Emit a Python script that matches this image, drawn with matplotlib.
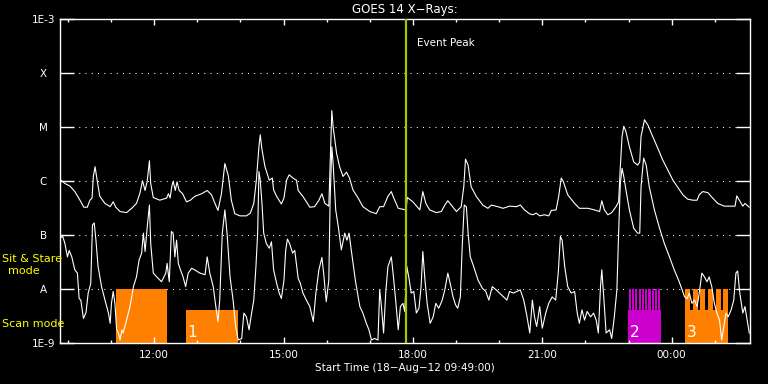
import matplotlib
matplotlib.use('Agg')
import matplotlib.pyplot as plt

plt.rcParams['font.family'] = ['DejaVu Sans']

# ---------------- data ----------------
# time in decimal hours since 00:00 18-Aug-2012 (values > 24 are 19-Aug)
x_start = 9.8167          # 09:49
x_end = 25.8167
class_levels = [-9, -8, -7, -6, -5, -4, -3]          # log10 flux (W/m^2)
class_labels = ['1E-9', 'A', 'B', 'C', 'M', 'X', '1E-3']
hour_ticks = [12, 15, 18, 21, 24]
hour_labels = ['12:00', '15:00', '18:00', '21:00', '00:00']
minor_hours = [10, 11, 13, 14, 16, 17, 19, 20, 22, 23, 25]
event_peak_time = 17.848

# GOES long channel (1-8 A), log10 flux
t_long = [9.82, 9.84, 9.93, 10.05, 10.16, 10.28, 10.37, 10.45, 10.51, 10.56, 10.59, 10.63, 10.67, 10.74,
          10.86, 10.98, 11.05, 11.11, 11.21, 11.36, 11.48, 11.59, 11.67, 11.73, 11.79, 11.84, 11.89, 11.92,
          11.98, 12.13, 12.29, 12.33, 12.37, 12.41, 12.44, 12.49, 12.53, 12.58, 12.66, 12.75, 12.84, 12.94,
          13.10, 13.23, 13.33, 13.41, 13.48, 13.56, 13.64, 13.72, 13.79, 13.87, 13.99, 14.14, 14.23, 14.31,
          14.37, 14.43, 14.46, 14.50, 14.57, 14.67, 14.74, 14.77, 14.84, 14.95, 15.01, 15.07, 15.13, 15.22,
          15.30, 15.34, 15.45, 15.61, 15.72, 15.82, 15.89, 15.96, 16.05, 16.09, 16.12, 16.15, 16.23, 16.30,
          16.38, 16.46, 16.53, 16.61, 16.73, 16.84, 17.00, 17.15, 17.23, 17.32, 17.42, 17.50, 17.54, 17.66,
          17.84, 17.87, 18.00, 18.16, 18.23, 18.30, 18.39, 18.54, 18.66, 18.74, 18.81, 18.89, 19.01, 19.12,
          19.18, 19.22, 19.28, 19.35, 19.47, 19.62, 19.74, 19.82, 19.97, 20.09, 20.24, 20.40, 20.49, 20.59,
          20.70, 20.78, 20.86, 20.94, 21.05, 21.15, 21.21, 21.32, 21.38, 21.44, 21.49, 21.59, 21.75, 21.86,
          22.06, 22.21, 22.33, 22.38, 22.44, 22.52, 22.61, 22.71, 22.77, 22.81, 22.85, 22.89, 22.94, 23.02,
          23.12, 23.21, 23.26, 23.29, 23.37, 23.45, 23.56, 23.68, 23.79, 23.91, 24.03, 24.14, 24.26, 24.37,
          24.49, 24.59, 24.64, 24.72, 24.84, 24.95, 25.07, 25.22, 25.38, 25.47, 25.51, 25.57, 25.65, 25.70,
          25.80]
v_long = [-6.02, -5.98, -6.04, -6.09, -6.19, -6.35, -6.48, -6.48, -6.35, -6.31, -5.91, -5.73, -5.94, -6.28,
          -6.41, -6.47, -6.38, -6.48, -6.56, -6.58, -6.50, -6.41, -6.22, -5.99, -6.17, -5.99, -5.62, -6.04,
          -6.30, -6.35, -6.31, -6.23, -6.31, -6.09, -6.00, -6.17, -6.01, -6.17, -6.23, -6.38, -6.35, -6.28,
          -6.23, -6.17, -6.25, -6.41, -6.54, -6.23, -5.67, -5.90, -6.35, -6.60, -6.64, -6.64, -6.59, -6.41,
          -5.98, -5.36, -5.14, -5.41, -5.73, -5.98, -5.94, -6.16, -6.28, -6.42, -6.31, -5.98, -5.88, -5.94,
          -5.98, -6.17, -6.28, -6.48, -6.47, -6.35, -6.23, -6.41, -6.46, -5.42, -4.69, -4.99, -5.48, -5.73,
          -5.91, -5.83, -5.94, -6.16, -6.31, -6.47, -6.56, -6.60, -6.47, -6.47, -6.28, -6.19, -6.28, -6.50,
          -6.53, -6.30, -6.38, -6.53, -6.19, -6.41, -6.53, -6.58, -6.56, -6.44, -6.36, -6.44, -6.56, -6.47,
          -6.10, -5.59, -5.70, -6.10, -6.28, -6.44, -6.50, -6.44, -6.47, -6.50, -6.46, -6.47, -6.44, -6.53,
          -6.60, -6.62, -6.59, -6.64, -6.62, -6.64, -6.54, -6.53, -6.28, -5.94, -6.01, -6.25, -6.41, -6.50,
          -6.50, -6.53, -6.56, -6.36, -6.53, -6.62, -6.58, -6.47, -6.38, -5.73, -5.17, -4.98, -5.08, -5.36,
          -5.64, -5.70, -5.64, -5.17, -4.86, -4.96, -5.17, -5.39, -5.60, -5.79, -5.98, -6.11, -6.25, -6.33,
          -6.35, -6.35, -6.25, -6.19, -6.21, -6.31, -6.41, -6.46, -6.46, -6.46, -6.27, -6.35, -6.46, -6.41,
          -6.48]

# GOES short channel (0.5-4 A), log10 flux
t_short = [9.82, 9.88, 9.93, 9.99, 10.03, 10.09, 10.16, 10.22, 10.26, 10.30, 10.36, 10.42, 10.47, 10.53,
           10.57, 10.61, 10.65, 10.70, 10.78, 10.86, 10.94, 10.98, 11.01, 11.05, 11.09, 11.13, 11.17, 11.21,
           11.25, 11.28, 11.36, 11.44, 11.52, 11.59, 11.65, 11.71, 11.75, 11.79, 11.84, 11.89, 11.92, 11.98,
           12.06, 12.17, 12.27, 12.30, 12.35, 12.40, 12.44, 12.48, 12.52, 12.56, 12.61, 12.67, 12.73, 12.79,
           12.87, 12.94, 13.06, 13.18, 13.23, 13.29, 13.37, 13.43, 13.48, 13.52, 13.58, 13.64, 13.69, 13.76,
           13.83, 13.89, 13.95, 14.03, 14.08, 14.14, 14.20, 14.26, 14.31, 14.36, 14.40, 14.43, 14.46, 14.50,
           14.54, 14.60, 14.67, 14.72, 14.77, 14.84, 14.90, 14.95, 15.01, 15.05, 15.09, 15.14, 15.21, 15.26,
           15.34, 15.39, 15.45, 15.53, 15.61, 15.69, 15.75, 15.82, 15.89, 15.93, 15.99, 16.05, 16.08, 16.12,
           16.15, 16.21, 16.27, 16.34, 16.42, 16.47, 16.52, 16.57, 16.67, 16.77, 16.84, 16.92, 16.98, 17.04,
           17.11, 17.19, 17.23, 17.27, 17.32, 17.37, 17.42, 17.50, 17.54, 17.60, 17.66, 17.71, 17.77, 17.81,
           17.86, 17.91, 17.96, 18.02, 18.08, 18.14, 18.19, 18.23, 18.28, 18.33, 18.40, 18.47, 18.53, 18.60,
           18.68, 18.74, 18.81, 18.87, 18.93, 18.99, 19.04, 19.10, 19.14, 19.19, 19.24, 19.28, 19.33, 19.41,
           19.51, 19.61, 19.69, 19.76, 19.84, 19.93, 20.01, 20.10, 20.18, 20.24, 20.33, 20.41, 20.49, 20.57,
           20.64, 20.71, 20.77, 20.82, 20.87, 20.94, 21.00, 21.08, 21.15, 21.23, 21.31, 21.37, 21.42, 21.46,
           21.52, 21.59, 21.67, 21.75, 21.81, 21.86, 21.92, 21.98, 22.04, 22.12, 22.19, 22.25, 22.30, 22.35,
           22.38, 22.43, 22.48, 22.56, 22.61, 22.67, 22.73, 22.77, 22.81, 22.85, 22.89, 22.94, 23.02, 23.12,
           23.21, 23.26, 23.29, 23.35, 23.41, 23.48, 23.60, 23.72, 23.83, 23.95, 24.06, 24.16, 24.23, 24.30,
           24.36, 24.41, 24.47, 24.53, 24.59, 24.64, 24.70, 24.76, 24.82, 24.87, 24.93, 24.99, 25.05, 25.11,
           25.16, 25.21, 25.26, 25.31, 25.38, 25.44, 25.49, 25.53, 25.58, 25.65, 25.70, 25.75, 25.80]
v_short = [-7.05, -7.02, -7.15, -7.40, -7.28, -7.40, -7.64, -7.70, -8.17, -8.20, -8.54, -8.43, -8.07, -7.89,
           -6.81, -6.77, -7.09, -7.58, -7.95, -8.20, -8.44, -8.63, -8.26, -8.04, -8.26, -8.75, -8.81, -8.94,
           -8.75, -8.81, -8.57, -8.32, -7.95, -7.77, -7.46, -7.33, -6.96, -7.30, -6.84, -6.44, -7.15, -7.70,
           -7.77, -7.86, -7.70, -7.52, -7.86, -6.93, -6.96, -7.40, -7.09, -7.52, -7.64, -7.77, -7.95, -7.70,
           -7.61, -7.64, -7.70, -7.73, -7.40, -7.70, -7.95, -8.32, -8.60, -8.20, -6.96, -6.53, -6.96, -7.77,
           -8.20, -8.69, -8.94, -8.91, -8.44, -8.51, -8.75, -8.44, -8.20, -7.58, -6.96, -5.82, -5.98, -6.41,
           -6.96, -7.15, -7.24, -7.12, -7.64, -7.89, -8.07, -8.17, -7.83, -7.28, -7.07, -7.15, -7.33, -7.28,
           -7.80, -7.89, -8.07, -8.20, -8.32, -8.60, -8.07, -7.64, -7.41, -7.70, -8.23, -7.83, -6.35, -5.36,
           -5.67, -6.53, -6.84, -7.27, -6.96, -7.09, -6.96, -7.27, -7.86, -8.32, -8.44, -8.63, -8.75, -8.94,
           -8.91, -8.94, -8.01, -8.32, -8.81, -8.07, -7.58, -7.40, -7.70, -8.20, -8.75, -8.32, -8.26, -8.41,
           -7.58, -7.80, -8.07, -8.04, -8.44, -8.35, -7.95, -7.30, -7.83, -8.26, -8.63, -8.51, -8.26, -8.35,
           -8.20, -8.01, -7.70, -7.91, -8.14, -8.29, -8.35, -8.14, -7.27, -6.44, -6.47, -6.96, -7.40, -7.58,
           -7.83, -7.98, -8.04, -8.20, -7.95, -8.01, -8.07, -8.14, -8.20, -8.04, -8.07, -8.04, -8.01, -8.20,
           -8.48, -8.81, -8.20, -8.51, -8.69, -8.32, -8.72, -8.44, -8.26, -8.14, -8.20, -7.70, -7.02, -7.09,
           -7.58, -7.95, -8.07, -8.04, -8.44, -8.63, -8.38, -8.57, -8.41, -8.51, -8.44, -8.57, -8.81, -7.95,
           -7.64, -8.20, -8.81, -8.75, -8.91, -8.51, -8.01, -6.96, -6.04, -5.76, -5.91, -6.16, -6.53, -6.87,
           -6.96, -6.96, -6.10, -5.57, -5.70, -6.10, -6.53, -6.87, -7.15, -7.40, -7.64, -7.83, -7.98, -8.14,
           -8.17, -8.07, -8.26, -8.20, -8.32, -8.07, -7.70, -7.77, -7.86, -7.77, -7.95, -8.26, -8.44, -8.57,
           -8.94, -8.69, -8.44, -8.51, -8.38, -8.20, -7.70, -7.66, -8.07, -8.44, -8.32, -8.57, -8.81]

# observing-mode blocks (Sit & Stare level = A, Scan level lower)
block_start = [11.114, 12.729, 22.997, 24.318]
block_end = [12.289, 13.933, 23.755, 25.307]
block_top = [-8.0, -8.383, -8.383, -8.383]
block_color = ['#ff8000', '#ff8000', '#cc00cc', '#ff8000']
block_label = ['', '1', '2', '3']

magenta_teeth_start = [23.005, 23.081, 23.157, 23.234, 23.310, 23.387, 23.463, 23.539, 23.616, 23.692]
magenta_teeth_end = [23.052, 23.128, 23.204, 23.281, 23.357, 23.434, 23.510, 23.586, 23.663, 23.739]
orange_teeth_start = [24.318, 24.496, 24.665, 24.843, 25.019, 25.191]
orange_teeth_end = [24.426, 24.602, 24.781, 24.959, 25.135, 25.307]
teeth_top = -8.0

# ---------------- plot ----------------
W, H = 768, 384
fig = plt.figure(figsize=(W / 100, H / 100), dpi=100, facecolor='black')
ax = fig.add_axes([60 / W, 1 - 343.3 / H, 690 / W, 324 / H])
ax.set_facecolor('black')
ax.set_xlim(x_start, x_end)
ax.set_ylim(class_levels[0], class_levels[-1])

for lv in class_levels[1:-1]:
    ax.axhline(lv, color='white', lw=0.75, linestyle=(0, (1, 5)), zorder=0)

base = class_levels[0]
for s, e, top, c in zip(block_start, block_end, block_top, block_color):
    ax.bar(x=s, height=top - base, width=e - s, bottom=base, align='edge', color=c, linewidth=0, zorder=1)
for s, e in zip(magenta_teeth_start, magenta_teeth_end):
    ax.bar(x=s, height=teeth_top - base, width=e - s, bottom=base, align='edge', color='#cc00cc',
           linewidth=0, zorder=1)
for s, e in zip(orange_teeth_start, orange_teeth_end):
    ax.bar(x=s, height=teeth_top - base, width=e - s, bottom=base, align='edge', color='#ff8000',
           linewidth=0, zorder=1)

for s, lab in zip(block_start, block_label):
    if lab:
        ax.text(s + 0.04, -8.93, lab, color='white', fontsize=11, ha='left', va='bottom', zorder=5)

ax.plot(t_long, v_long, color='white', lw=0.8, zorder=3)
ax.plot(t_short, v_short, color='white', lw=0.8, zorder=3)

ax.axvline(event_peak_time, color='#a0c800', lw=1.6, zorder=4)
ax.annotate('Event Peak', xy=(event_peak_time, 1), xycoords=('data', 'axes fraction'),
            xytext=(7.4, -17), textcoords='offset points', color='white', fontsize=7.5,
            ha='left', va='center')

for sp in ax.spines.values():
    sp.set_color('white')
    sp.set_linewidth(1.0)

ax.set_yticks(class_levels, class_labels, ha='center')
ax.tick_params(axis='y', which='major', direction='in', length=10, width=1, colors='white',
               left=True, right=True, labelsize=7.5, pad=11.9)
ax.set_xticks(hour_ticks, hour_labels)
ax.set_xticks(minor_hours, minor=True)
ax.tick_params(axis='x', which='major', direction='in', length=4.3, width=1, colors='white',
               top=True, bottom=True, labelsize=7.5, pad=5)
ax.tick_params(axis='x', which='minor', direction='in', length=2.5, width=1, colors='white',
               top=True, bottom=True)

fig.text(405 / W, 1 - 10 / H, 'GOES 14 X\u2212Rays:', color='white', fontsize=8.5, ha='center', va='center')
fig.text(405 / W, 1 - 368 / H, 'Start Time (18\u2212Aug\u221212 09:49:00)', color='white', fontsize=7.5,
         ha='center', va='center')
fig.text(2 / W, 1 - 259 / H, 'Sit & Stare', color='yellow', fontsize=8, ha='left', va='center')
fig.text(24.3 / W, 1 - 271 / H, 'mode', color='yellow', fontsize=8, ha='center', va='center')
fig.text(2 / W, 1 - 324 / H, 'Scan mode', color='yellow', fontsize=8, ha='left', va='center')

fig.savefig('out.png', dpi=100, facecolor='black')
